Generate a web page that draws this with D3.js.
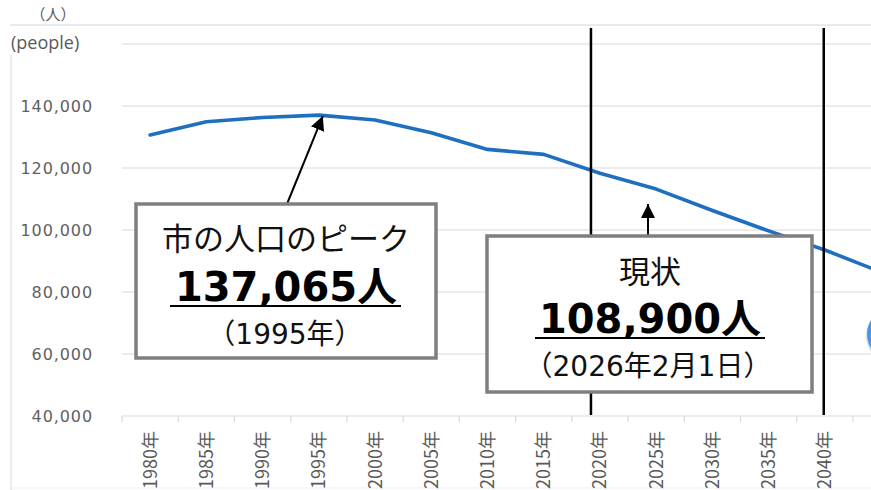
<!DOCTYPE html>
<html>
<head>
<meta charset="utf-8">
<script src="https://cdn.jsdelivr.net/npm/d3@7"></script>
<style>
  body { margin: 0; background: #fff; }
  svg { display: block; }
</style>
</head>
<body>
<script>
var width = 871, height = 490;

// population by year (people)
var years = ["1980", "1985", "1990", "1995", "2000", "2005", "2010", "2015",
             "2020", "2025", "2030", "2035", "2040", "2045"];
var population = [130650, 134900, 136300, 137065, 135500, 131400, 126000, 124400,
                  118300, 113200, 106300, 99700, 93550, 86400];
var yTicks = [40000, 60000, 80000, 100000, 120000, 140000, 160000];
var markerYears = [2019.2, 2039.9];   // the two black vertical lines

var peakYear = "1995", peakValue = 137065;

var x = d3.scaleBand()
        .domain(years)
        .range([122, 122 + years.length * 56.23])
        .padding(0);
var y = d3.scaleLinear()
        .domain([40000, 160000])
        .range([416, 44]);
// continuous year scale through the band centres, for the marker lines
var xYear = d3.scaleLinear()
        .domain([1980, 2040])
        .range([x("1980") + x.bandwidth() / 2, x("2040") + x.bandwidth() / 2]);

var svg = d3.select("body").append("svg")
        .attr("width", width)
        .attr("height", height);

var defs = svg.append("defs");
defs.append("marker")
        .attr("id", "head")
        .attr("viewBox", "0 0 10 10")
        .attr("refX", 10).attr("refY", 5)
        .attr("markerUnits", "userSpaceOnUse")
        .attr("markerWidth", 14).attr("markerHeight", 14)
        .attr("orient", "auto")
        .append("path")
        .attr("d", "M0,0L10,5L0,10z")
        .attr("fill", "#000");
var shadow = defs.append("filter").attr("id", "soft")
        .attr("x", "-50%").attr("y", "-50%").attr("width", "200%").attr("height", "200%");
shadow.append("feGaussianBlur").attr("stdDeviation", 1.2);

// frame lines of the picture
svg.append("line").attr("x1", 10).attr("x2", width).attr("y1", 25).attr("y2", 25)
        .attr("stroke", "#e3e3e3").attr("stroke-width", 1.5);
svg.append("line").attr("x1", 11).attr("x2", 11).attr("y1", 55).attr("y2", height)
        .attr("stroke", "#e6e6e6").attr("stroke-width", 1.5);
svg.append("line").attr("x1", 11).attr("x2", width).attr("y1", 488).attr("y2", 488)
        .attr("stroke", "#eeeeee").attr("stroke-width", 1);

// gridlines
svg.append("g").selectAll("line")
        .data(yTicks)
        .enter().append("line")
        .attr("x1", 122).attr("x2", width)
        .attr("y1", function(d) { return y(d); })
        .attr("y2", function(d) { return y(d); })
        .attr("stroke", "#d9d9d9")
        .attr("stroke-width", 1.2);

// y labels
svg.append("g").selectAll("text")
        .data(yTicks.filter(function(d) { return d < 160000; }))
        .enter().append("text")
        .attr("x", 93)
        .attr("y", function(d) { return y(d); })
        .attr("dy", "0.36em")
        .attr("text-anchor", "end")
        .style("font-family", "DejaVu Sans, sans-serif")
        .style("font-size", "16px")
        .style("letter-spacing", "0.9px")
        .attr("fill", "#5f5f5f")
        .text(d3.format(","));

svg.append("text").attr("x", 53).attr("y", 20).attr("text-anchor", "middle")
        .style("font-family", "Noto Sans CJK JP").style("font-size", "15px")
        .attr("fill", "#595959").text("（人）");
svg.append("text").attr("x", 11).attr("y", 49)
        .style("font-family", "Open Sans, sans-serif").style("font-size", "18px")
        .attr("fill", "#595959").text("(people)");

// x axis ticks
var xAxis = svg.append("g");
xAxis.selectAll("line.tick")
        .data(years)
        .enter().append("line")
        .attr("class", "tick")
        .attr("x1", function(d) { return x(d); })
        .attr("x2", function(d) { return x(d); })
        .attr("y1", 416).attr("y2", 422)
        .attr("stroke", "#d9d9d9").attr("stroke-width", 1.2);

// labels whose band centre lies inside the picture
xAxis.selectAll("text")
        .data(years.filter(function(d) { return x(d) + x.bandwidth() / 2 < width; }))
        .enter().append("text")
        .attr("transform", function(d) {
            return "translate(" + (x(d) + x.bandwidth() / 2 + 6.5) + ",431) rotate(-90)";
        })
        .attr("text-anchor", "end")
        .style("font-family", "Liberation Sans Narrow, Noto Sans CJK JP, sans-serif")
        .style("font-size", "18px")
        .attr("fill", "#595959")
        .text(function(d) { return d + "年"; });

// population line
var line = d3.line()
        .x(function(d, i) { return x(years[i]) + x.bandwidth() / 2; })
        .y(function(d) { return y(d); });

svg.append("path")
        .datum(population)
        .attr("d", line)
        .attr("fill", "none")
        .attr("stroke", "#1f6fc0")
        .attr("stroke-width", 3.6)
        .attr("stroke-linejoin", "round")
        .attr("stroke-linecap", "round");

// vertical marker lines
svg.append("g").selectAll("line")
        .data(markerYears)
        .enter().append("line")
        .attr("x1", function(d) { return xYear(d); })
        .attr("x2", function(d) { return xYear(d); })
        .attr("y1", 28).attr("y2", 415)
        .attr("stroke", "#000").attr("stroke-width", 2.5);

// peak annotation
var peakX = x(peakYear) + x.bandwidth() / 2 + 4, peakY = y(peakValue) + 1;
svg.append("line")
        .attr("x1", 287).attr("y1", 204)
        .attr("x2", peakX).attr("y2", peakY)
        .attr("stroke", "#000").attr("stroke-width", 2)
        .attr("marker-end", "url(#head)");

svg.append("rect")
        .attr("x", 136).attr("y", 204).attr("width", 300).attr("height", 154)
        .attr("fill", "#fff").attr("stroke", "#7f7f7f").attr("stroke-width", 3.5);

var box1 = svg.append("g").attr("text-anchor", "middle");
box1.append("text").attr("x", 286).attr("y", 250)
        .style("font-family", "Noto Sans CJK JP").style("font-size", "31px")
        .attr("fill", "#111").text("市の人口のピーク");
box1.append("text").attr("x", 286).attr("y", 301)
        .style("font-family", "DejaVu Sans, Noto Sans CJK JP").style("font-weight", "bold")
        .style("font-size", "40px").attr("fill", "#000")
        .text(d3.format(",")(peakValue) + "人");
box1.append("line").attr("x1", 170).attr("x2", 401).attr("y1", 306).attr("y2", 306)
        .attr("stroke", "#000").attr("stroke-width", 2);
box1.append("text").attr("x", 285).attr("y", 344)
        .style("font-family", "DejaVu Sans, Noto Sans CJK JP").style("font-size", "28px")
        .attr("fill", "#111").text("（" + peakYear + "年）");

// current annotation
svg.append("line")
        .attr("x1", 648).attr("y1", 236)
        .attr("x2", 648).attr("y2", 204)
        .attr("stroke", "#000").attr("stroke-width", 2)
        .attr("marker-end", "url(#head)");

svg.append("rect")
        .attr("x", 487).attr("y", 236).attr("width", 325).attr("height", 156)
        .attr("fill", "#fff").attr("stroke", "#7f7f7f").attr("stroke-width", 3.5);

var box2 = svg.append("g").attr("text-anchor", "middle");
box2.append("text").attr("x", 650).attr("y", 283)
        .style("font-family", "Noto Sans CJK JP").style("font-size", "31px")
        .attr("fill", "#111").text("現状");
box2.append("text").attr("x", 650).attr("y", 333)
        .style("font-family", "DejaVu Sans, Noto Sans CJK JP").style("font-weight", "bold")
        .style("font-size", "40px").attr("fill", "#000")
        .text("108,900人");
box2.append("line").attr("x1", 535).attr("x2", 765).attr("y1", 338).attr("y2", 338)
        .attr("stroke", "#000").attr("stroke-width", 2);
box2.append("text").attr("x", 648).attr("y", 376)
        .style("font-family", "DejaVu Sans, Noto Sans CJK JP").style("font-size", "28px")
        .attr("fill", "#111").text("（2026年2月1日）");

// partly hidden round button at the right edge
svg.append("circle").attr("cx", 894).attr("cy", 336).attr("r", 27)
        .attr("fill", "#9bb7d4").attr("filter", "url(#soft)");
svg.append("circle").attr("cx", 893).attr("cy", 334).attr("r", 26)
        .attr("fill", "#4a97e0");
</script>
</body>
</html>
